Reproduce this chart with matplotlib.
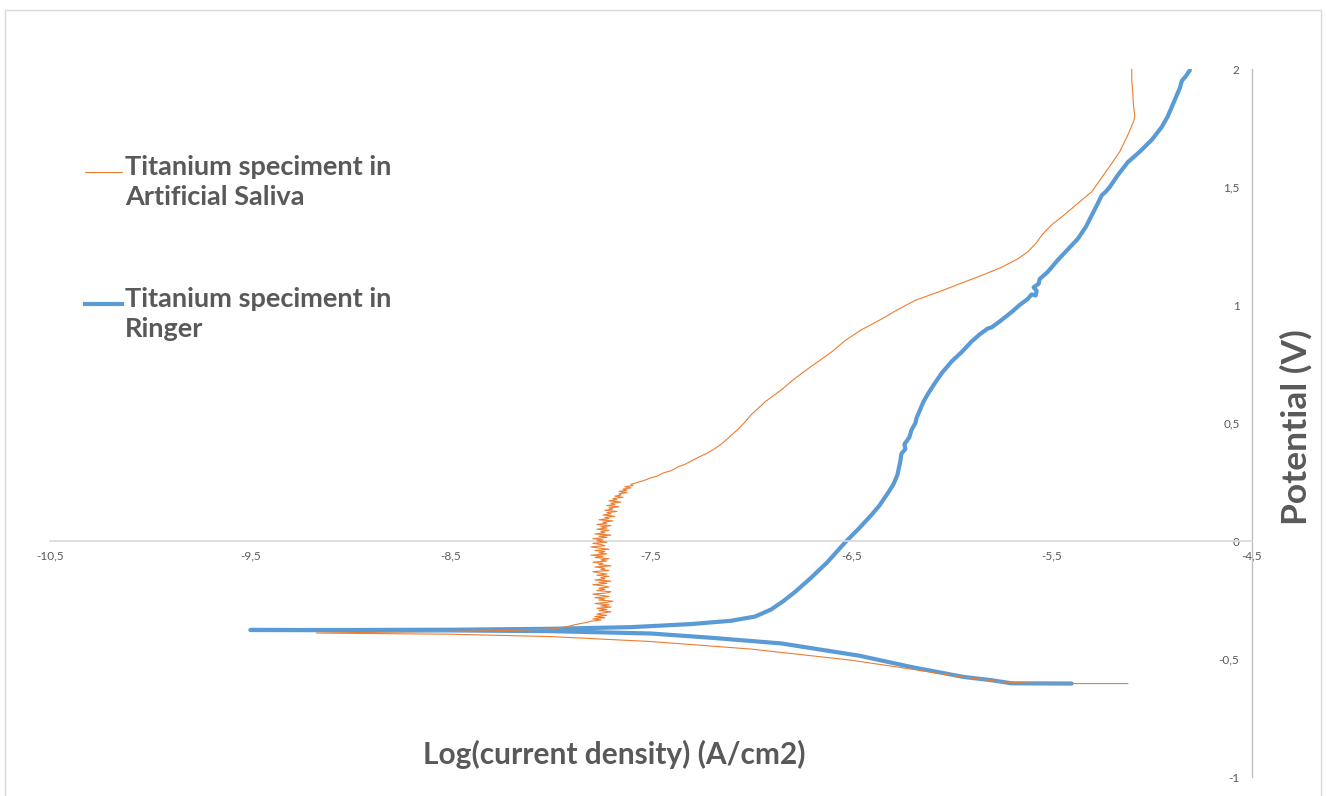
import matplotlib
matplotlib.use("Agg")
import matplotlib.pyplot as plt
from matplotlib.lines import Line2D
from matplotlib.patches import Rectangle
from matplotlib.ticker import FixedLocator, FuncFormatter

# ---------------- data ----------------
series_names = ["Titanium speciment in\nArtificial Saliva", "Titanium speciment in\nRinger"]

# Artificial saliva: cathodic branch (right -> left), then anodic branch
saliva_cath_x = [-5.12, -5.4, -5.6, -5.75, -5.94, -6.2, -6.5, -7.0, -7.5, -8.0, -8.5, -9.17]
saliva_cath_y = [-0.604, -0.604, -0.603, -0.597, -0.577, -0.543, -0.505, -0.458, -0.426, -0.405, -0.395, -0.39]

saliva_pre_x = [-8.6, -8.2, -8.0, -7.92, -7.86, -7.82]
saliva_pre_y = [-0.384, -0.379, -0.373, -0.363, -0.351, -0.345]

# noisy passive region
saliva_band_x = [
    -7.80, -7.75, -7.79, -7.73, -7.78, -7.72, -7.77, -7.74, -7.70, -7.76,
    -7.72, -7.77, -7.70, -7.75, -7.71, -7.78, -7.72, -7.69, -7.76, -7.73,
    -7.78, -7.71, -7.75, -7.79, -7.72, -7.70, -7.77, -7.73, -7.76, -7.71,
    -7.74, -7.79, -7.72, -7.76, -7.70, -7.78, -7.73, -7.75, -7.71, -7.77,
    -7.72, -7.76, -7.79, -7.71, -7.75, -7.73, -7.78, -7.70, -7.76, -7.74,
    -7.79, -7.72, -7.75, -7.71, -7.78, -7.74, -7.80, -7.72, -7.76, -7.73,
    -7.78, -7.71, -7.76, -7.80, -7.73, -7.75, -7.79, -7.72, -7.77, -7.74,
    -7.79, -7.72, -7.76, -7.70, -7.78, -7.73, -7.75, -7.71, -7.77, -7.72,
    -7.75, -7.70, -7.77, -7.72, -7.74, -7.69, -7.76, -7.71, -7.73, -7.68,
    -7.74, -7.70, -7.72, -7.67, -7.73, -7.69, -7.71, -7.66, -7.72, -7.68,
    -7.70, -7.65, -7.71, -7.67, -7.69, -7.64, -7.68, -7.65, -7.66, -7.62,
    -7.66, -7.62, -7.64, -7.60, -7.63, -7.59, -7.60]
saliva_band_y = [
    -0.340, -0.335, -0.330, -0.325, -0.320, -0.315, -0.310, -0.305, -0.300, -0.295,
    -0.290, -0.285, -0.280, -0.275, -0.270, -0.265, -0.260, -0.255, -0.250, -0.245,
    -0.240, -0.235, -0.230, -0.225, -0.220, -0.215, -0.210, -0.205, -0.200, -0.195,
    -0.190, -0.185, -0.180, -0.175, -0.170, -0.165, -0.160, -0.155, -0.150, -0.145,
    -0.140, -0.135, -0.130, -0.125, -0.120, -0.115, -0.110, -0.105, -0.100, -0.095,
    -0.090, -0.085, -0.080, -0.075, -0.070, -0.065, -0.060, -0.055, -0.050, -0.045,
    -0.040, -0.035, -0.030, -0.025, -0.020, -0.015, -0.010, -0.005, 0.000, 0.005,
    0.010, 0.015, 0.020, 0.025, 0.030, 0.035, 0.040, 0.045, 0.050, 0.055,
    0.060, 0.065, 0.070, 0.075, 0.080, 0.085, 0.090, 0.095, 0.100, 0.105,
    0.110, 0.115, 0.120, 0.125, 0.130, 0.135, 0.140, 0.145, 0.150, 0.155,
    0.160, 0.165, 0.170, 0.175, 0.180, 0.185, 0.190, 0.195, 0.200, 0.205,
    0.210, 0.215, 0.220, 0.225, 0.230, 0.235, 0.240]

saliva_post_x = [-7.56, -7.53, -7.50, -7.47, -7.44, -7.40, -7.36, -7.33, -7.29, -7.26,
                 -7.22, -7.18, -7.15, -7.12, -7.09, -7.06, -7.03, -7.00,
                 -6.93, -6.85, -6.78, -6.70, -6.60, -6.53, -6.45, -6.35, -6.28, -6.18,
                 -6.05, -5.95, -5.85, -5.75, -5.67, -5.62, -5.58, -5.545, -5.50, -5.44,
                 -5.37, -5.30, -5.25, -5.20, -5.16, -5.12, -5.09, -5.085, -5.092, -5.095,
                 -5.10, -5.10]
saliva_post_y = [0.250, 0.258, 0.268, 0.275, 0.288, 0.298, 0.316, 0.325, 0.343, 0.356,
                 0.372, 0.392, 0.410, 0.432, 0.455, 0.478, 0.505, 0.535,
                 0.590, 0.640, 0.690, 0.740, 0.800, 0.850, 0.895, 0.940, 0.975, 1.020,
                 1.060, 1.093, 1.125, 1.160, 1.195, 1.225, 1.260, 1.300, 1.340, 1.380,
                 1.430, 1.480, 1.540, 1.600, 1.650, 1.720, 1.780, 1.800, 1.850, 1.900,
                 1.950, 2.000]

saliva_x = saliva_cath_x + saliva_pre_x + saliva_band_x + saliva_post_x
saliva_y = saliva_cath_y + saliva_pre_y + saliva_band_y + saliva_post_y

ringer_x = [-5.40, -5.70, -5.80, -5.94, -6.20, -6.46, -6.85, -7.20, -7.50, -8.00, -8.50, -9.00, -9.50,
            -9.00, -8.50, -8.00, -7.60, -7.30, -7.10, -6.98, -6.90, -6.84, -6.78, -6.70,
            -6.62, -6.53, -6.46, -6.40, -6.36, -6.32, -6.29, -6.27, -6.265, -6.255, -6.25,
            -6.23, -6.235, -6.21, -6.20, -6.18, -6.175, -6.16, -6.14, -6.12, -6.09, -6.05,
            -6.00, -5.95, -5.90, -5.86, -5.82, -5.80, -5.76, -5.70, -5.66, -5.62, -5.60,
            -5.58, -5.575, -5.59, -5.565, -5.56, -5.52, -5.47, -5.42, -5.37, -5.33, -5.30,
            -5.27, -5.25, -5.23, -5.21, -5.17, -5.12, -5.06, -5.00, -4.95, -4.92, -4.90,
            -4.88, -4.86, -4.85, -4.83, -4.81]
ringer_y = [-0.604, -0.603, -0.590, -0.576, -0.534, -0.486, -0.434, -0.410, -0.392, -0.382, -0.379, -0.378, -0.377,
            -0.377, -0.376, -0.372, -0.365, -0.352, -0.338, -0.320, -0.290, -0.255, -0.215, -0.155,
            -0.090, -0.005, 0.055, 0.110, 0.150, 0.200, 0.240, 0.280, 0.300, 0.340, 0.370,
            0.390, 0.410, 0.440, 0.470, 0.500, 0.520, 0.550, 0.590, 0.620, 0.660, 0.710,
            0.760, 0.800, 0.845, 0.875, 0.900, 0.905, 0.930, 0.970, 1.000, 1.025, 1.045,
            1.040, 1.060, 1.075, 1.090, 1.110, 1.140, 1.190, 1.235, 1.280, 1.330, 1.380,
            1.430, 1.465, 1.480, 1.500, 1.550, 1.605, 1.650, 1.700, 1.755, 1.800, 1.840,
            1.880, 1.920, 1.950, 1.970, 1.995]

x_ticks = [-10.5, -9.5, -8.5, -7.5, -6.5, -5.5, -4.5]
y_ticks = [-1, -0.5, 0, 0.5, 1, 1.5, 2]
x_label = "Log(current density) (A/cm2)"
y_label = "Potential (V)"

# ---------------- style ----------------
ORANGE = "#ED7D31"
BLUE = "#5B9BD5"
TXT = "#595959"
FONT = ["Lato", "DejaVu Sans"]
plt.rcParams["font.family"] = FONT

W, H = 1326, 796
fig = plt.figure(figsize=(W / 100, H / 100), dpi=100)
fig.patch.set_facecolor("white")

x0, x1 = 50, 1252
ytop, ybot = 69, 777
ax = fig.add_axes([x0 / W, (H - ybot) / H, (x1 - x0) / W, (ybot - ytop) / H])
ax.set_xlim(-10.5, -4.5)
ax.set_ylim(-1, 2)
ax.patch.set_alpha(0)

ax.plot(saliva_x, saliva_y, color=ORANGE, lw=0.8, solid_joinstyle="round", zorder=3)
ax.plot(ringer_x, ringer_y, color=BLUE, lw=3.0, solid_joinstyle="round",
        solid_capstyle="round", zorder=2)

for s in ["top", "right"]:
    ax.spines[s].set_visible(False)
ax.spines["left"].set_position(("data", -4.5))
ax.spines["bottom"].set_position(("data", 0))
ax.spines["left"].set_color("#BFBFBF")
ax.spines["bottom"].set_color("#D9D9D9")
ax.spines["left"].set_linewidth(1.0)
ax.spines["bottom"].set_linewidth(1.2)

fmt = FuncFormatter(lambda v, p: ("%g" % v).replace(".", ","))
ax.xaxis.set_major_locator(FixedLocator(x_ticks))
ax.yaxis.set_major_locator(FixedLocator(y_ticks))
ax.xaxis.set_major_formatter(fmt)
ax.yaxis.set_major_formatter(fmt)
ax.tick_params(axis="both", length=0, labelsize=8.5, labelcolor=TXT)
ax.tick_params(axis="x", pad=7)
ax.tick_params(axis="y", pad=9)

# axis titles
fig.text(614 / W, 1 - 754 / H, x_label, ha="center", va="center",
         fontsize=21.5, fontweight="bold", color=TXT)
fig.text(1296 / W, 1 - 427 / H, y_label, ha="center", va="center", rotation=90,
         fontsize=25.5, fontweight="bold", color=TXT)

# legend (manual, handle aligned with the first text line)
leg_items = [(ORANGE, 0.8, 172), (BLUE, 3.0, 304)]
for (col, lw, yy), name in zip(leg_items, series_names):
    fig.add_artist(Line2D([85 / W, 122 / W], [1 - yy / H, 1 - yy / H], color=col, lw=lw,
                          transform=fig.transFigure))
    fig.text(125 / W, 1 - (yy - 17) / H, name, ha="left", va="top", fontsize=19.5,
             fontweight="bold", color=TXT, linespacing=1.3)

# outer chart border
fig.add_artist(Rectangle((5 / W, -0.02), 1316 / W, 1 + 0.02 - 10 / H, transform=fig.transFigure,
                         fill=False, edgecolor="#D9D9D9", lw=1.0))

fig.savefig("out.png", dpi=100, facecolor="white")
